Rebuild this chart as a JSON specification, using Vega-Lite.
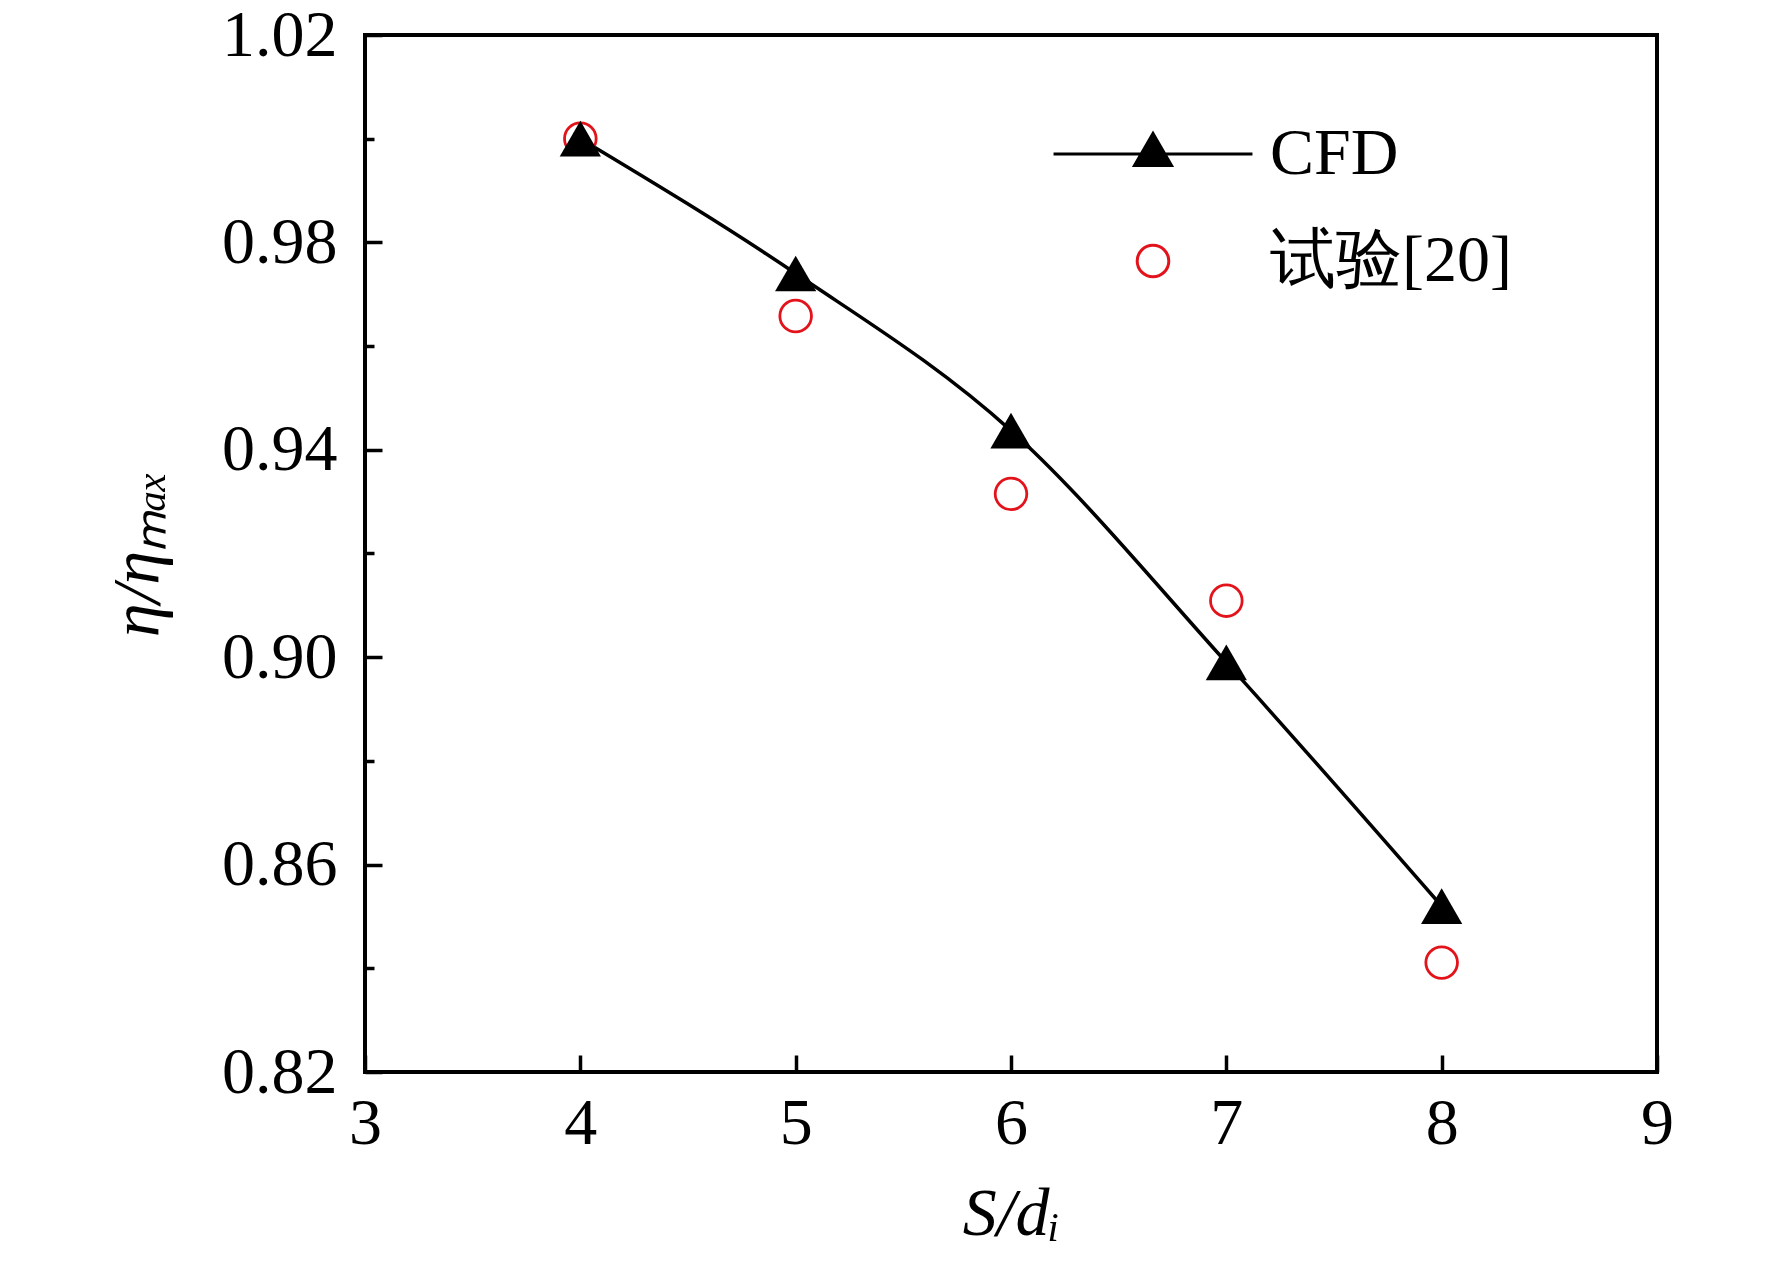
{
  "$schema": "https://vega.github.io/schema/vega-lite/v6.json",
  "width": 1292,
  "height": 1037,
  "autosize": "none",
  "padding": {"left": 365, "top": 35, "right": 115, "bottom": 197},
  "background": "white",
  "config": {
    "view": {"stroke": "black", "strokeWidth": 4},
    "font": "Liberation Serif",
    "axis": {
      "domain": false,
      "grid": false,
      "labelFlush": false,
      "tickColor": "black",
      "tickWidth": 3.5,
      "labelColor": "black",
      "titleColor": "black",
      "labelFont": "Liberation Serif",
      "titleFont": "Liberation Serif",
      "labelFontSize": 66,
      "titleFontSize": 68
    },
    "legend": {
      "orient": "none",
      "legendX": 755,
      "legendY": 86,
      "title": null,
      "padding": 0,
      "symbolSize": 1000,
      "symbolStrokeWidth": 3,
      "symbolOpacity": 1,
      "labelFont": "Liberation Serif",
      "labelFontSize": 66,
      "labelColor": "black",
      "labelOffset": 84,
      "labelLimit": 500,
      "rowPadding": 41
    }
  },
  "data": {
    "values": [
      {"sd": 4, "eta": 1.0, "series": "CFD"},
      {"sd": 5, "eta": 0.974, "series": "CFD"},
      {"sd": 6, "eta": 0.9437, "series": "CFD"},
      {"sd": 7, "eta": 0.899, "series": "CFD"},
      {"sd": 8, "eta": 0.852, "series": "CFD"},
      {"sd": 4, "eta": 1.0, "series": "试验[20]"},
      {"sd": 5, "eta": 0.9658, "series": "试验[20]"},
      {"sd": 6, "eta": 0.9315, "series": "试验[20]"},
      {"sd": 7, "eta": 0.9109, "series": "试验[20]"},
      {"sd": 8, "eta": 0.8411, "series": "试验[20]"}
    ]
  },
  "resolve": {"axis": {"y": "independent"}},
  "layer": [
    {
      "transform": [{"filter": "datum.series === 'CFD'"}],
      "mark": {"type": "line", "interpolate": "monotone", "color": "black", "strokeWidth": 3.5},
      "encoding": {
        "x": {
          "field": "sd", "type": "quantitative",
          "scale": {"domain": [3, 9], "nice": false, "zero": false},
          "axis": {
            "title": "S/dᵢ",
            "titleFontStyle": "italic",
            "titleFontWeight": "normal",
            "values": [3, 4, 5, 6, 7, 8, 9],
            "format": "d",
            "tickSize": -17,
            "labelPadding": 36,
            "titlePadding": 24
          }
        },
        "y": {
          "field": "eta", "type": "quantitative",
          "scale": {"domain": [0.82, 1.02], "nice": false, "zero": false},
          "axis": {
            "orient": "left",
            "title": "η/ηₘₐₓ",
            "titleFontStyle": "italic",
            "titleFontWeight": "normal",
            "values": [0.82, 0.86, 0.9, 0.94, 0.98, 1.02],
            "format": ".2f",
            "tickSize": -17,
            "labelPadding": 45,
            "titlePadding": 49
          }
        }
      }
    },
    {
      "transform": [{"filter": "datum.series !== 'CFD'"}],
      "mark": {"type": "point", "filled": false, "size": 1000, "strokeWidth": 2.8, "opacity": 1},
      "encoding": {
        "x": {"field": "sd", "type": "quantitative"},
        "y": {"field": "eta", "type": "quantitative", "axis": null},
        "stroke": {
          "field": "series", "type": "nominal",
          "scale": {"domain": ["CFD", "试验[20]"], "range": ["black", "#e3131b"]}
        },
        "fill": {
          "field": "series", "type": "nominal",
          "scale": {"domain": ["CFD", "试验[20]"], "range": ["black", "transparent"]}
        },
        "shape": {
          "field": "series", "type": "nominal",
          "scale": {"domain": ["CFD", "试验[20]"], "range": ["M-6.29,0H6.29M0,-1.3L1.17,0.72L-1.17,0.72Z", "circle"]}
        }
      }
    },
    {
      "transform": [{"filter": "datum.series === 'CFD'"}],
      "mark": {"type": "point", "shape": "triangle-up", "filled": true, "size": 1700, "opacity": 1, "color": "black"},
      "encoding": {
        "x": {"field": "sd", "type": "quantitative"},
        "y": {
          "field": "eta", "type": "quantitative",
          "axis": {
            "orient": "left",
            "title": null,
            "values": [0.84, 0.88, 0.92, 0.96, 1.0],
            "labels": false,
            "tickSize": -9
          }
        }
      }
    }
  ]
}
